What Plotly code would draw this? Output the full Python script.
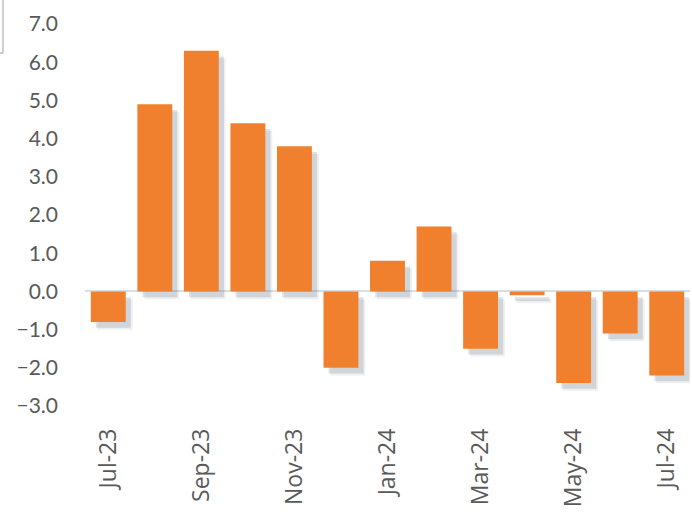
import plotly.graph_objects as go

months = ["Jul-23", "Aug-23", "Sep-23", "Oct-23", "Nov-23", "Dec-23", "Jan-24",
          "Feb-24", "Mar-24", "Apr-24", "May-24", "Jun-24", "Jul-24"]
values = [-0.8, 4.9, 6.3, 4.4, 3.8, -2.0, 0.8, 1.7, -1.5, -0.1, -2.4, -1.1, -2.2]
tick_months = ["Jul-23", "Sep-23", "Nov-23", "Jan-24", "Mar-24", "May-24", "Jul-24"]
y_ticks = [-3, -2, -1, 0, 1, 2, 3, 4, 5, 6, 7]

BAR_W = 0.75
SHADOW_DX = 0.11   # category units
SHADOW_DY = 0.15   # value units

fig = go.Figure()
# soft drop shadow (two layers)
for dx, dy, alpha in [(SHADOW_DX * 1.35, SHADOW_DY * 1.35, 0.10), (SHADOW_DX, SHADOW_DY, 0.20)]:
    fig.add_trace(go.Bar(
        x=months, y=values, base=[-dy] * len(values),
        width=BAR_W, offset=-BAR_W / 2 + dx,
        marker=dict(color=f"rgba(90,105,125,{alpha})", line=dict(width=0)),
        showlegend=False, hoverinfo="skip"))
fig.add_trace(go.Bar(x=months, y=values, width=BAR_W, offset=-BAR_W / 2,
                     marker=dict(color="#F0802E", line=dict(width=0)),
                     showlegend=False))

fig.update_layout(
    width=692, height=515,
    margin=dict(l=85, r=2, t=24, b=109),
    paper_bgcolor="white", plot_bgcolor="white",
    barmode="overlay",
    font=dict(family="Lato", color="#595959", size=21),
    shapes=[
        dict(type="line", xref="paper", yref="paper",
             x0=(3 - 85) / 605, x1=(3 - 85) / 605, y0=(406 - 0) / 382, y1=(406 - 53) / 382,
             line=dict(color="#A0A0A0", width=1)),
        dict(type="line", xref="paper", yref="paper",
             x0=(0 - 85) / 605, x1=(3 - 85) / 605, y0=(406 - 53) / 382, y1=(406 - 53) / 382,
             line=dict(color="#A0A0A0", width=1)),
    ],
)
fig.update_xaxes(
    type="category", range=[-0.5, 12.5], automargin=False,
    tickmode="array", tickvals=tick_months, ticktext=tick_months,
    tickangle=-90, showgrid=False, showline=False, ticks="",
    ticklabelstandoff=17, tickfont=dict(family="Open Sans", size=23, color="#595959"),
)
fig.update_yaxes(
    range=[-3, 7], tickmode="array", tickvals=y_ticks, automargin=False,
    tickformat=".1f", showgrid=False, showline=False, ticks="",
    zeroline=True, zerolinecolor="#D6DEE8", zerolinewidth=2,
    ticklabelstandoff=26, tickfont=dict(size=21),
)

fig.write_html("out.html")
